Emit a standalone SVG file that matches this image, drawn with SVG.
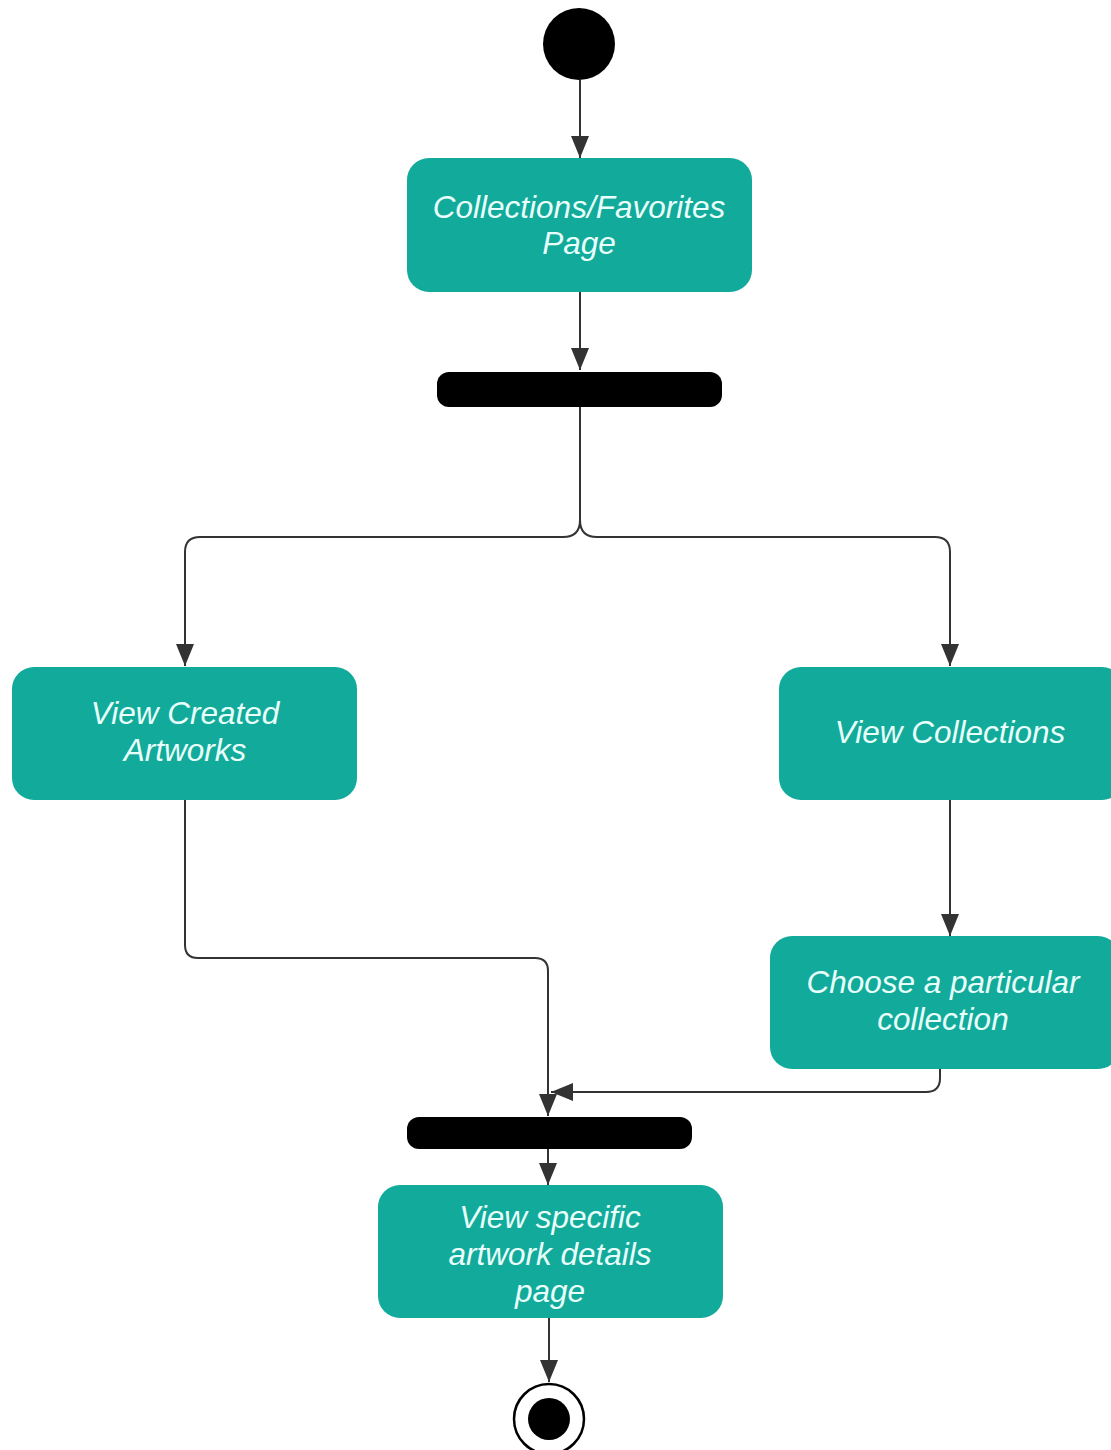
<svg xmlns="http://www.w3.org/2000/svg" width="1111" height="1450" viewBox="0 0 1111 1450">
  <style>
    .act { fill: #12aa9a; }
    .lbl { font-family: "Liberation Sans", Arial, sans-serif; font-style: italic; font-size: 31.5px; fill: #e8fffb; text-anchor: middle; }
    .bar { fill: #000; }
    .edge { fill: none; stroke: #333; stroke-width: 2; }
  </style>
  <defs>
    <marker id="arrow" viewBox="0 0 22 18" refX="22" refY="9" markerWidth="22" markerHeight="18" orient="auto" markerUnits="userSpaceOnUse">
      <path d="M0,0 L22,9 L0,18 Z" fill="#333"/>
    </marker>
  </defs>
  <rect width="1111" height="1450" fill="#fff"/>

  <!-- connectors -->
  <g id="connectors">
    <path class="edge" d="M580,80 V158" marker-end="url(#arrow)"/>
    <path class="edge" d="M580,292 V370" marker-end="url(#arrow)"/>
    <path class="edge" d="M580,406 V520 Q580,537 563,537 H200 Q185,537 185,552 V666" marker-end="url(#arrow)"/>
    <path class="edge" d="M580,520 Q580,537 597,537 H935 Q950,537 950,552 V666" marker-end="url(#arrow)"/>
    <path class="edge" d="M185,800 V945 Q185,958 198,958 H535 Q548,958 548,971 V1116" marker-end="url(#arrow)"/>
    <path class="edge" d="M950,800 V936" marker-end="url(#arrow)"/>
    <path class="edge" d="M940,1068 V1078 Q940,1092 926,1092 H551" marker-end="url(#arrow)"/>
    <path class="edge" d="M548,1148 V1185" marker-end="url(#arrow)"/>
    <path class="edge" d="M549,1318 V1382" marker-end="url(#arrow)"/>
  </g>

  <!-- initial node -->
  <g id="start">
    <circle cx="579" cy="44" r="36" fill="#000"/>
  </g>

  <g id="collections-page">
    <rect class="act" x="407" y="158" width="345" height="134" rx="22"/>
    <text class="lbl" x="579" y="218">Collections/Favorites</text>
    <text class="lbl" x="579" y="254">Page</text>
  </g>

  <g id="fork">
    <rect class="bar" x="437" y="372" width="285" height="35" rx="12"/>
  </g>

  <g id="view-created">
    <rect class="act" x="12" y="667" width="345" height="133" rx="22"/>
    <text class="lbl" x="185" y="724">View Created</text>
    <text class="lbl" x="185" y="761">Artworks</text>
  </g>

  <g id="view-collections">
    <rect class="act" x="779" y="667" width="345" height="133" rx="22"/>
    <text class="lbl" x="950" y="743">View Collections</text>
  </g>

  <g id="choose-collection">
    <rect class="act" x="770" y="936" width="350" height="133" rx="22"/>
    <text class="lbl" x="943" y="993">Choose a particular</text>
    <text class="lbl" x="943" y="1030">collection</text>
  </g>

  <g id="join">
    <rect class="bar" x="407" y="1117" width="285" height="32" rx="12"/>
  </g>

  <g id="artwork-details">
    <rect class="act" x="378" y="1185" width="345" height="133" rx="22"/>
    <text class="lbl" x="550" y="1228">View specific</text>
    <text class="lbl" x="550" y="1265">artwork details</text>
    <text class="lbl" x="550" y="1302">page</text>
  </g>

  <!-- final node -->
  <g id="end">
    <circle cx="549" cy="1419" r="35" fill="#fff" stroke="#000" stroke-width="2.5"/>
    <circle cx="549" cy="1419" r="21" fill="#000"/>
  </g>
</svg>
